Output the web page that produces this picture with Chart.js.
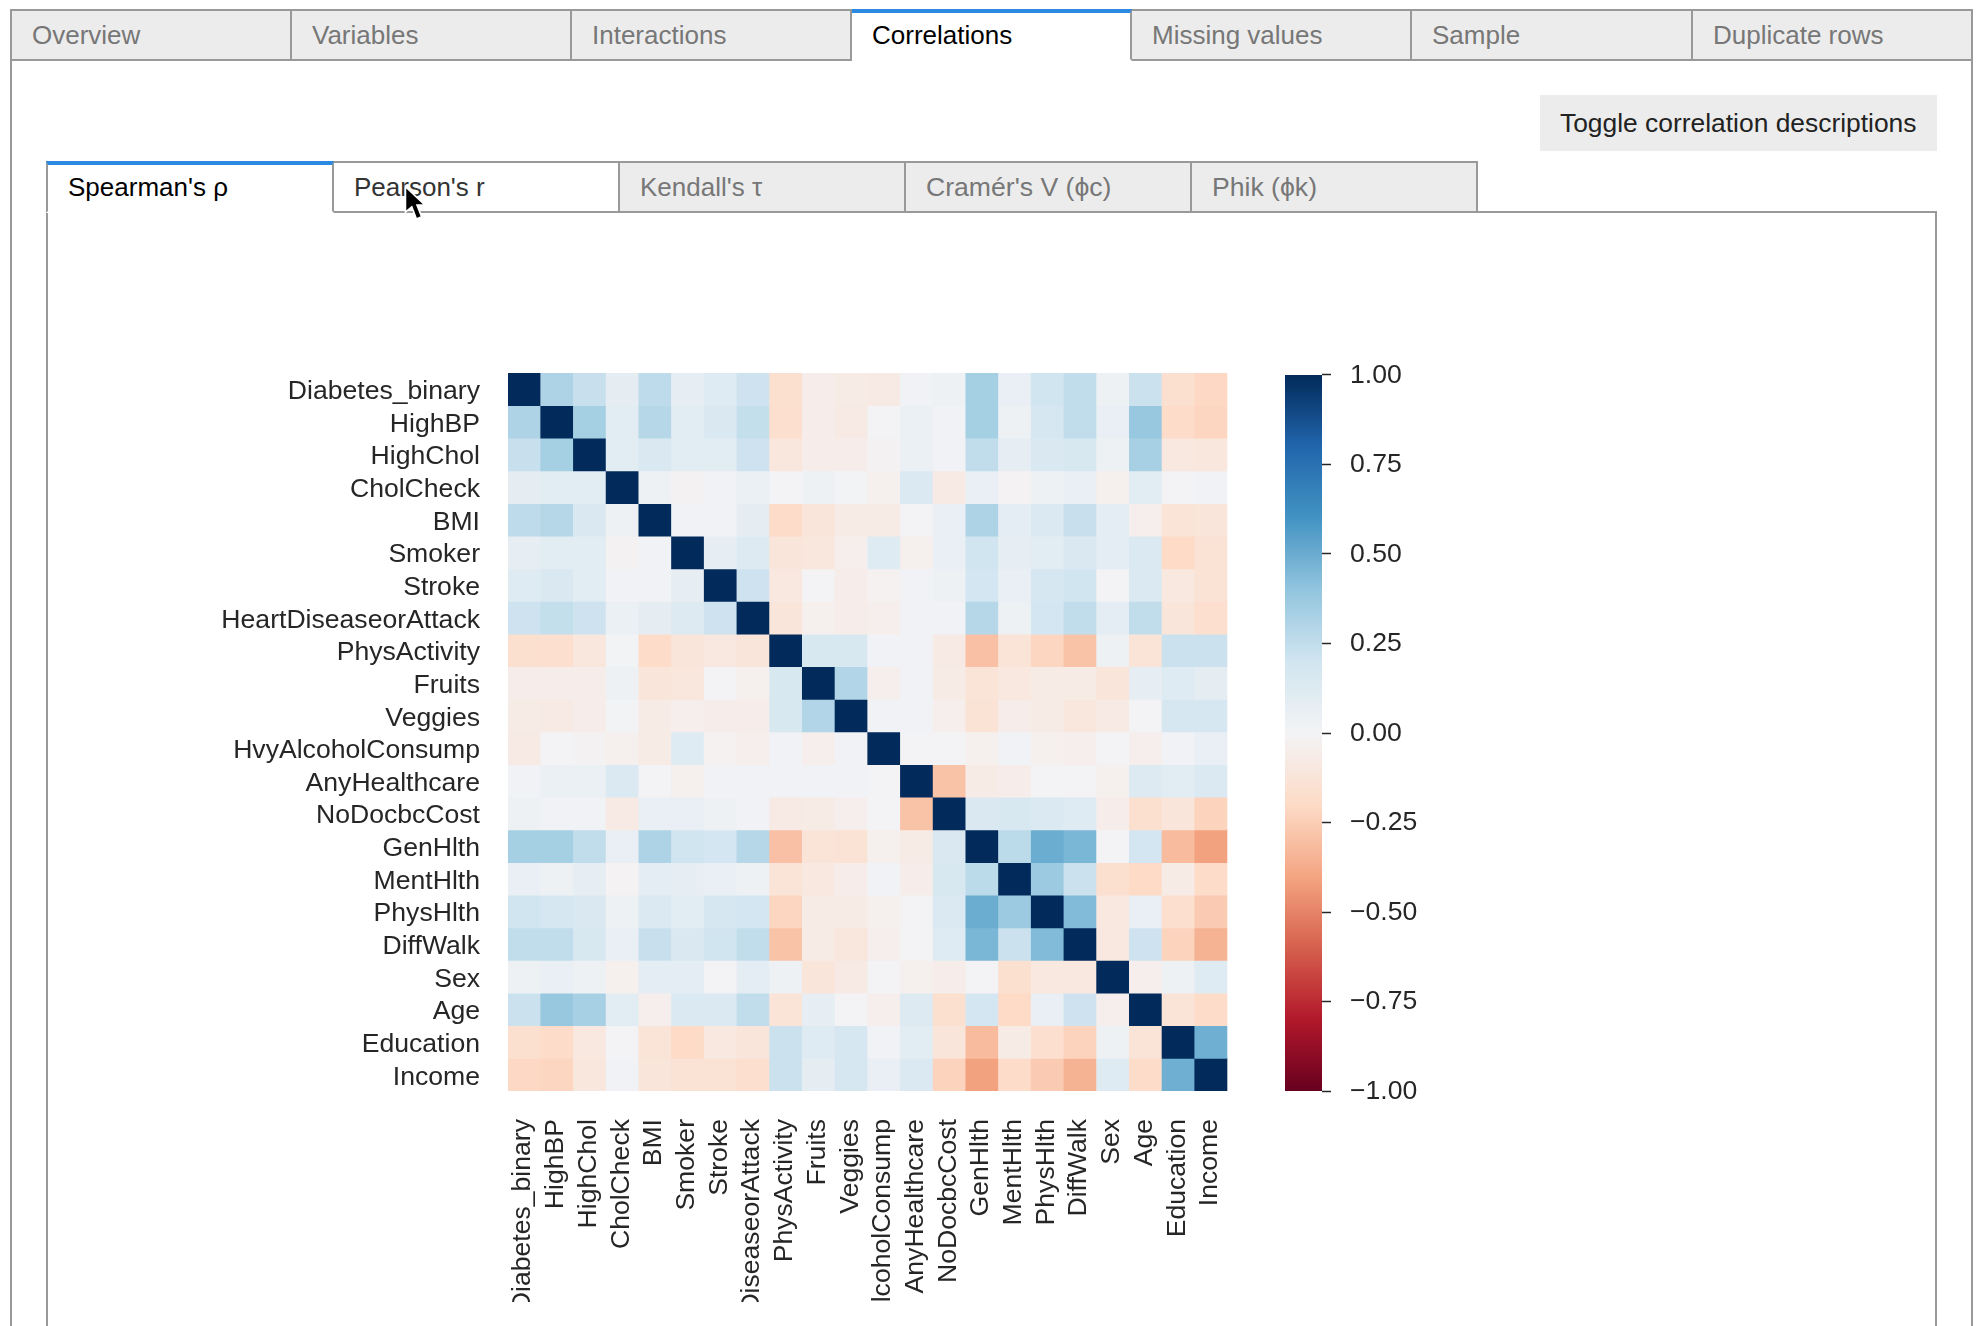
<!DOCTYPE html>
<html>
<head>
<meta charset="utf-8">
<title>Correlations</title>
<script src="https://cdn.jsdelivr.net/npm/chart.js@4"></script>
<style>
  html, body { margin: 0; padding: 0; background: #fff; overflow: hidden; }
  body { width: 1978px; height: 1326px; position: relative; font-family: "Liberation Sans", Arial, sans-serif; font-size: 26px; }
  .tab { position: absolute; box-sizing: border-box; background: #ececec; color: #777; border: 2px solid #999; border-left-width: 0; line-height: 48px; padding-left: 20px; white-space: nowrap; }
  .first { border-left-width: 2px; }
  .active { background: #fff; color: #000; border-bottom-color: #fff; border-top: 4px solid #2b8ae2; line-height: 44px; }
  .hover { background: #fff; color: #333; }
  .wide { font-size: 26.6px; }
  .box { position: absolute; box-sizing: border-box; border: 2px solid #999; }
  #toggle { position: absolute; left: 1540px; top: 95px; width: 397px; height: 56px; background: #ececec; color: #222; font-size: 26.4px; line-height: 56px; padding-left: 20px; box-sizing: border-box; white-space: nowrap; }
  canvas { position: absolute; display: block; }
  #cursor { position: absolute; left: 402px; top: 184px; }
</style>
</head>
<body>
<div class="box" style="left:10px;top:59px;width:1963px;height:1300px;border-bottom:0"></div>
<div class="tab first" style="left:10px;top:9px;width:282px;height:52px">Overview</div>
<div class="tab" style="left:292px;top:9px;width:280px;height:52px">Variables</div>
<div class="tab" style="left:572px;top:9px;width:280px;height:52px">Interactions</div>
<div class="tab active" style="left:852px;top:9px;width:280px;height:52px">Correlations</div>
<div class="tab" style="left:1132px;top:9px;width:280px;height:52px">Missing values</div>
<div class="tab" style="left:1412px;top:9px;width:281px;height:52px">Sample</div>
<div class="tab" style="left:1693px;top:9px;width:280px;height:52px">Duplicate rows</div>
<div id="toggle">Toggle correlation descriptions</div>
<div class="box" style="left:46px;top:211px;width:1891px;height:1200px;border-bottom:0"></div>
<div class="tab first active" style="left:46px;top:161px;width:288px;height:52px">Spearman's ρ</div>
<div class="tab hover" style="left:334px;top:161px;width:286px;height:52px">Pearson's r</div>
<div class="tab" style="left:620px;top:161px;width:286px;height:52px">Kendall's τ</div>
<div class="tab wide" style="left:906px;top:161px;width:286px;height:52px">Cramér's V (ϕc)</div>
<div class="tab wide" style="left:1192px;top:161px;width:286px;height:52px">Phik (ϕk)</div>

<canvas id="heatmap"></canvas>
<canvas id="colorbar"></canvas>

<svg id="cursor" width="30" height="40" viewBox="0 0 26 34">
  <path d="M3 2 L3 24 L8.5 19.5 L12.5 30 L17 28 L13 18 L20 18 Z" fill="#000" stroke="#fff" stroke-width="1.4"/>
</svg>

<script>
const rows = ["Diabetes_binary", "HighBP", "HighChol", "CholCheck", "BMI", "Smoker", "Stroke", "HeartDiseaseorAttack", "PhysActivity", "Fruits", "Veggies", "HvyAlcoholConsump", "AnyHealthcare", "NoDocbcCost", "GenHlth", "MentHlth", "PhysHlth", "DiffWalk", "Sex", "Age", "Education", "Income"];

const diabetesBinary = [1, .31, .23, .08, .26, .07, .115, .21, -.16, -.05, -.07, -.08, .015, .035, .34, .06, .2, .25, .035, .22, -.16, -.21];
const highBP = [.31, 1, .34, .1, .29, .1, .15, .24, -.17, -.05, -.08, -.005, .045, .015, .34, .035, .17, .25, .06, .38, -.19, -.22];
const highChol = [.23, .34, 1, .1, .15, .1, .1, .21, -.11, -.05, -.05, -.015, .045, .015, .25, .07, .15, .16, .035, .33, -.09, -.11];
const cholCheck = [.08, .1, .1, 1, .035, -.015, .02, .045, -.005, .03, .005, -.03, .14, -.08, .06, -.01, .035, .06, -.03, .1, -.005, .015];
const bmi = [.26, .29, .15, .035, 1, .015, .02, .08, -.19, -.12, -.07, -.07, -.005, .06, .31, .09, .14, .23, .09, -.04, -.13, -.12];
const smoker = [.07, .1, .1, -.015, .015, 1, .07, .125, -.12, -.11, -.04, .115, -.03, .06, .2, .07, .1, .15, .09, .14, -.2, -.14];
const stroke = [.115, .15, .1, .02, .02, .07, 1, .21, -.09, -.005, -.05, -.02, .01, .03, .18, .06, .17, .2, -.005, .14, -.09, -.14];
const heartDisease = [.21, .24, .21, .045, .08, .125, .21, 1, -.12, -.03, -.05, -.04, .02, .01, .29, .035, .18, .25, .09, .25, -.12, -.17];
const physActivity = [-.16, -.17, -.11, .005, -.19, -.12, -.09, -.12, 1, .16, .16, .02, .02, -.08, -.3, -.13, -.22, -.29, .035, -.13, .22, .22];
const fruits = [-.05, -.05, -.05, .03, -.12, -.11, -.005, -.03, .16, 1, .3, -.04, .02, -.07, -.13, -.09, -.07, -.07, -.12, .07, .115, .08];
const veggies = [-.07, -.08, -.05, .005, -.07, -.04, -.05, -.05, .16, .3, 1, .02, .02, -.04, -.14, -.05, -.07, -.11, -.08, -.005, .17, .17];
const hvyAlcohol = [-.08, -.005, -.015, -.03, -.07, .115, -.02, -.04, .02, -.04, .02, 1, -.005, -.005, -.03, .02, -.03, -.04, -.005, -.04, .02, .06];
const anyHealthcare = [.015, .045, .045, .14, -.005, -.03, .01, .02, .02, .02, .02, -.005, 1, -.29, -.07, -.05, -.005, -.005, -.03, .125, .1, .14];
const noDocCost = [.035, .015, .015, -.08, .06, .06, .03, .01, -.08, -.07, -.04, -.005, -.29, 1, .15, .16, .14, .115, -.05, -.16, -.12, -.23];
const genHlth = [.34, .34, .25, .06, .31, .2, .18, .29, -.3, -.13, -.14, -.03, -.07, .15, 1, .27, .5, .46, -.005, .18, -.32, -.41];
const mentHlth = [.06, .035, .07, -.01, .09, .07, .06, .035, -.13, -.09, -.05, .02, -.05, .16, .27, 1, .37, .22, -.16, -.2, -.07, -.19];
const physHlth = [.2, .17, .15, .035, .14, .1, .17, .18, -.22, -.07, -.07, -.03, -.005, .14, .5, .37, 1, .44, -.09, .06, -.17, -.26];
const diffWalk = [.25, .25, .16, .06, .23, .15, .2, .25, -.29, -.07, -.11, -.04, -.005, .115, .46, .22, .44, 1, -.09, .21, -.23, -.35];
const sex = [.035, .06, .035, -.03, .09, .09, -.005, .09, .035, -.12, -.08, -.005, -.03, -.05, -.005, -.16, -.09, -.09, 1, -.04, .035, .115];
const age = [.22, .38, .33, .1, -.04, .14, .14, .25, -.13, .07, -.005, -.04, .125, -.16, .18, -.2, .06, .21, -.04, 1, -.13, -.19];
const education = [-.16, -.19, -.09, -.005, -.13, -.2, -.09, -.12, .22, .115, .17, .02, .1, -.12, -.32, -.07, -.17, -.23, .035, -.13, 1, .49];
const income = [-.21, -.22, -.11, .015, -.12, -.14, -.14, -.17, .22, .08, .17, .06, .14, -.23, -.41, -.19, -.26, -.35, .115, -.19, .49, 1];

const matrix = [diabetesBinary, highBP, highChol, cholCheck, bmi, smoker, stroke, heartDisease, physActivity, fruits, veggies, hvyAlcohol, anyHealthcare, noDocCost, genHlth, mentHlth, physHlth, diffWalk, sex, age, education, income];

// RdBu reversed, -1 to 1 in steps of .2
const cmap = ["#67001f", "#b2182b", "#d6604d", "#f4a582", "#fddbc7", "#f3f3f5", "#d1e5f0", "#92c5de", "#4393c3", "#2166ac", "#022a5a"];

const hexToRgb = (h) => [1, 3, 5].map((i) => parseInt(h.slice(i, i + 2), 16));

const cellColor = (v) => {
  const t = ((v + 1) / 2) * (cmap.length - 1);
  const i = Math.min(Math.floor(t), cmap.length - 2);
  const a = hexToRgb(cmap[i]);
  const b = hexToRgb(cmap[i + 1]);
  const c = a.map((x, k) => Math.round(x + (b[k] - x) * (t - i)));
  return `rgb(${c[0]},${c[1]},${c[2]})`;
};

const labelFont = { family: '"Liberation Sans", Arial, sans-serif', size: 26.6 };
const inkColor = "#262626";

Chart.defaults.animation = false;
Chart.defaults.responsive = false;
Chart.defaults.devicePixelRatio = 1;

function place(id, left, top, width, height) {
  const c = document.getElementById(id);
  c.width = width;
  c.height = height;
  c.style.left = left + "px";
  c.style.top = top + "px";
  return c.getContext("2d");
}

// plot box: x 508-1226.5, y 373-1091, labels cut at the canvas bottom
// the x axis keeps about 45px free on its right, hence the wider canvas
new Chart(place("heatmap", 60, 300, 1211, 1002), {
  type: "bar",
  data: {
    labels: rows,
    datasets: matrix.map((row, i) => ({
      label: rows[i],
      data: row.map(() => 1),
      backgroundColor: row.map(cellColor),
      borderWidth: 0,
      barPercentage: 1,
      categoryPercentage: 1,
    })),
  },
  options: {
    layout: { padding: { top: 73, right: 0, left: 0, bottom: 0 } },
    plugins: { legend: { display: false }, tooltip: { enabled: false } },
    events: [],
    scales: {
      x: {
        stacked: true,
        grid: { display: false, drawTicks: false },
        border: { display: false },
        ticks: { autoSkip: false, minRotation: 90, maxRotation: 90, padding: 28, labelOffset: -1.2, color: inkColor, font: labelFont },
        afterFit: (scale) => { scale.height = 211; },
      },
      y: {
        stacked: true,
        reverse: true,
        min: 0,
        max: rows.length,
        grid: { display: false, drawTicks: false },
        border: { display: false },
        afterBuildTicks: (scale) => { scale.ticks = rows.map((r, i) => ({ value: i + 0.5 })); },
        ticks: { autoSkip: false, padding: 28, labelOffset: 2.5, color: inkColor, font: labelFont, callback: (v) => rows[Math.floor(v)] },
        afterFit: (scale) => { scale.width = 448; },
      },
    },
  },
});

const barRange = [-1, 1];
const barTicks = [-1, -0.75, -0.5, -0.25, 0, 0.25, 0.5, 0.75, 1];

new Chart(place("colorbar", 1274, 340, 300, 786), {
  type: "bar",
  data: {
    labels: [""],
    datasets: [{
      data: [barRange],
      borderWidth: 0,
      barPercentage: 1,
      categoryPercentage: 1,
      backgroundColor: (ctx) => {
        const area = ctx.chart.chartArea;
        if (!area) return cmap[5];
        const g = ctx.chart.ctx.createLinearGradient(0, area.bottom, 0, area.top);
        cmap.forEach((c, i) => g.addColorStop(i / (cmap.length - 1), c));
        return g;
      },
    }],
  },
  options: {
    layout: { padding: { top: 34, bottom: 34, left: 11, right: 0 } },
    plugins: { legend: { display: false }, tooltip: { enabled: false } },
    events: [],
    scales: {
      x: { display: false },
      y: {
        position: "right",
        min: -1,
        max: 1,
        border: { display: false },
        grid: { drawOnChartArea: false, tickLength: 9, tickColor: inkColor, tickWidth: 1.5 },
        afterBuildTicks: (scale) => { scale.ticks = barTicks.map((value) => ({ value })); },
        ticks: { padding: 19, labelOffset: 0.6, color: inkColor, font: labelFont, callback: (v) => v.toFixed(2).replace("-", "\u2212") },
        afterFit: (scale) => { scale.width = 252; },
      },
    },
  },
});
</script>
</body>
</html>
